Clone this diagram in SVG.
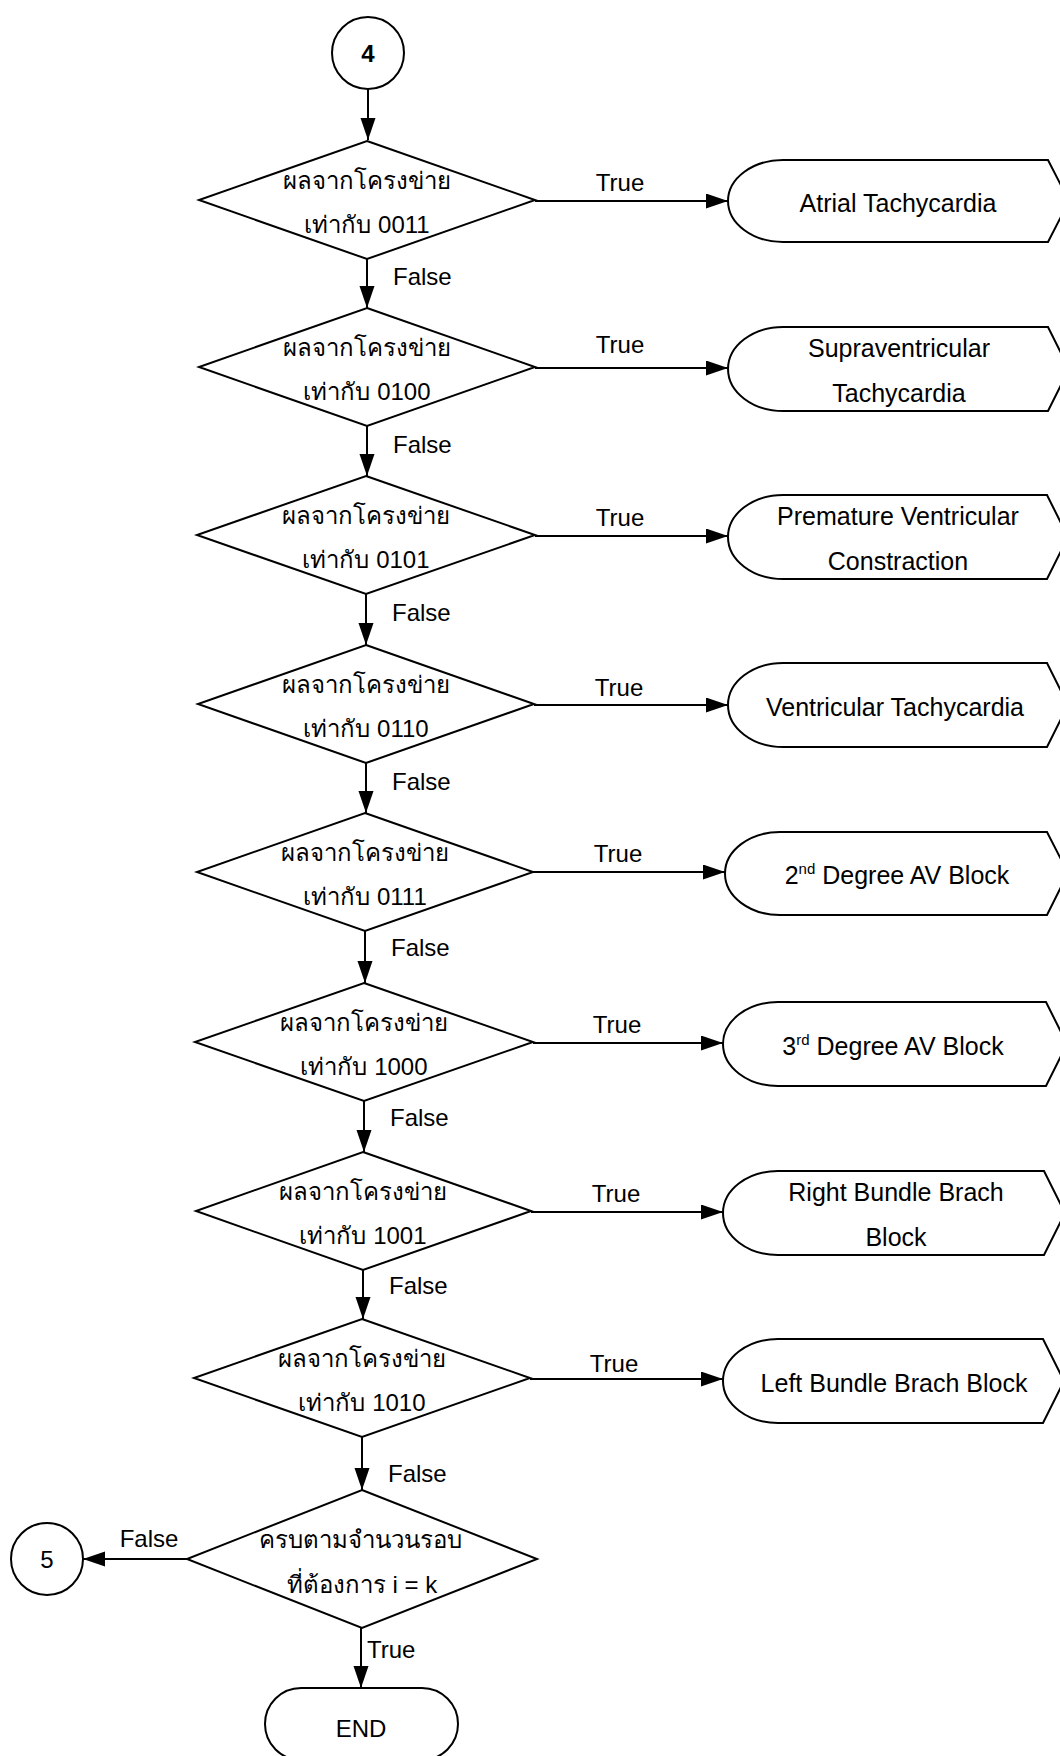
<svg xmlns="http://www.w3.org/2000/svg" width="1060" height="1756" viewBox="0 0 1060 1756">
  <style>
    .shape { fill: #ffffff; stroke: #000000; stroke-width: 2; stroke-linejoin: miter; }
    .ln { fill: none; stroke: #000000; stroke-width: 2; }
    text { font-family: "Liberation Sans", "DejaVu Sans", sans-serif; font-size: 24px; fill: #000000; }
    .c { text-anchor: middle; }
    .nt { font-size: 25px; }
    .sup { font-size: 15px; }
  </style>
  <defs>
    <marker id="arrow" markerUnits="userSpaceOnUse" markerWidth="24" markerHeight="16" refX="22" refY="7.5" orient="auto">
      <path d="M0,0 L22,7.5 L0,15 Z" fill="#000000"/>
    </marker>
  </defs>

  <rect x="0" y="0" width="1060" height="1756" fill="#ffffff"/>

  <!-- connectors -->
  <g id="connectors">
    <path class="ln" marker-end="url(#arrow)" d="M368,89 V140"/>
    <!-- False branches down the main column -->
    <path class="ln" marker-end="url(#arrow)" d="M367,259 V308"/>
    <path class="ln" marker-end="url(#arrow)" d="M367,426 V476"/>
    <path class="ln" marker-end="url(#arrow)" d="M366,594 V645"/>
    <path class="ln" marker-end="url(#arrow)" d="M366,763 V813"/>
    <path class="ln" marker-end="url(#arrow)" d="M365,931 V983"/>
    <path class="ln" marker-end="url(#arrow)" d="M364,1101 V1152"/>
    <path class="ln" marker-end="url(#arrow)" d="M363,1270 V1319"/>
    <path class="ln" marker-end="url(#arrow)" d="M362,1437 V1490"/>
    <path class="ln" marker-end="url(#arrow)" d="M361,1628 V1688"/>
    <path class="ln" marker-end="url(#arrow)" d="M187,1559 H83"/>
    <!-- True branches to the diagnoses -->
    <path class="ln" marker-end="url(#arrow)" d="M535,201 H728"/>
    <path class="ln" marker-end="url(#arrow)" d="M535,368 H728"/>
    <path class="ln" marker-end="url(#arrow)" d="M535,536 H728"/>
    <path class="ln" marker-end="url(#arrow)" d="M534,705 H728"/>
    <path class="ln" marker-end="url(#arrow)" d="M533,872 H725"/>
    <path class="ln" marker-end="url(#arrow)" d="M533,1043 H723"/>
    <path class="ln" marker-end="url(#arrow)" d="M531,1212 H723"/>
    <path class="ln" marker-end="url(#arrow)" d="M530,1379 H723"/>

    <text x="393" y="285">False</text>
    <text x="393" y="453">False</text>
    <text x="392" y="621">False</text>
    <text x="392" y="790">False</text>
    <text x="391" y="956">False</text>
    <text x="390" y="1126">False</text>
    <text x="389" y="1294">False</text>
    <text x="388" y="1482">False</text>
    <text x="367" y="1658">True</text>
    <text class="c" x="149" y="1547">False</text>

    <text class="c" x="620" y="191">True</text>
    <text class="c" x="620" y="353">True</text>
    <text class="c" x="620" y="526">True</text>
    <text class="c" x="619" y="696">True</text>
    <text class="c" x="618" y="862">True</text>
    <text class="c" x="617" y="1033">True</text>
    <text class="c" x="616" y="1202">True</text>
    <text class="c" x="614" y="1372">True</text>
  </g>

  <!-- connector circles -->
  <g id="start4">
    <circle class="shape" cx="368" cy="53" r="36"/>
    <text class="c" x="368" y="62" font-weight="bold">4</text>
  </g>
  <g id="goto5">
    <circle class="shape" cx="47" cy="1559" r="36"/>
    <text class="c" x="47" y="1568">5</text>
  </g>

  <!-- decisions -->
  <g id="d0011">
    <polygon class="shape" points="367,141 535,200 367,259 199,200"/>
    <text class="c" x="367" y="189">ผลจากโครงข่าย</text>
    <text class="c" x="367" y="233">เท่ากับ 0011</text>
  </g>
  <g id="d0100">
    <polygon class="shape" points="367,308 535,367 367,426 199,367"/>
    <text class="c" x="367" y="356">ผลจากโครงข่าย</text>
    <text class="c" x="367" y="400">เท่ากับ 0100</text>
  </g>
  <g id="d0101">
    <polygon class="shape" points="366,476 535,535 366,594 197,535"/>
    <text class="c" x="366" y="524">ผลจากโครงข่าย</text>
    <text class="c" x="366" y="568">เท่ากับ 0101</text>
  </g>
  <g id="d0110">
    <polygon class="shape" points="366,645 534,704 366,763 198,704"/>
    <text class="c" x="366" y="693">ผลจากโครงข่าย</text>
    <text class="c" x="366" y="737">เท่ากับ 0110</text>
  </g>
  <g id="d0111">
    <polygon class="shape" points="365,813 533,872 365,931 197,872"/>
    <text class="c" x="365" y="861">ผลจากโครงข่าย</text>
    <text class="c" x="365" y="905">เท่ากับ 0111</text>
  </g>
  <g id="d1000">
    <polygon class="shape" points="364,983 533,1042 364,1101 195,1042"/>
    <text class="c" x="364" y="1031">ผลจากโครงข่าย</text>
    <text class="c" x="364" y="1075">เท่ากับ 1000</text>
  </g>
  <g id="d1001">
    <polygon class="shape" points="363,1152 531,1211 363,1270 196,1211"/>
    <text class="c" x="363" y="1200">ผลจากโครงข่าย</text>
    <text class="c" x="363" y="1244">เท่ากับ 1001</text>
  </g>
  <g id="d1010">
    <polygon class="shape" points="362,1319 530,1378 362,1437 194,1378"/>
    <text class="c" x="362" y="1367">ผลจากโครงข่าย</text>
    <text class="c" x="362" y="1411">เท่ากับ 1010</text>
  </g>
  <g id="dLoop">
    <polygon class="shape" points="362,1490 537,1559 362,1628 187,1559"/>
    <text class="c" x="360" y="1548">ครบตามจำนวนรอบ</text>
    <text class="c" x="362" y="1593">ที่ต้องการ i = k</text>
  </g>

  <!-- diagnosis outputs (display symbols, running off the right edge) -->
  <g id="atrialTachy">
    <path class="shape" d="M783,160 H1048 L1069,201 L1048,242 H783 A55,41 0 0 1 783,160 Z"/>
    <text class="c nt" x="898" y="212">Atrial Tachycardia</text>
  </g>
  <g id="svTachy">
    <path class="shape" d="M783,327 H1048 L1069,369 L1048,411 H783 A55,42 0 0 1 783,327 Z"/>
    <text class="c nt" x="899" y="357">Supraventricular</text>
    <text class="c nt" x="899" y="402">Tachycardia</text>
  </g>
  <g id="pvc">
    <path class="shape" d="M783,495 H1047 L1068,537 L1047,579 H783 A55,42 0 0 1 783,495 Z"/>
    <text class="c nt" x="898" y="525">Premature Ventricular</text>
    <text class="c nt" x="898" y="570">Constraction</text>
  </g>
  <g id="vTachy">
    <path class="shape" d="M783,663 H1047 L1068,705 L1047,747 H783 A55,42 0 0 1 783,663 Z"/>
    <text class="c nt" x="895" y="716">Ventricular Tachycardia</text>
  </g>
  <g id="avBlock2">
    <path class="shape" d="M780,832 H1047 L1068,873 L1047,915 H780 A55,41.5 0 0 1 780,832 Z"/>
    <text class="c nt" x="897" y="884">2<tspan class="sup" dy="-10">nd</tspan><tspan dy="10"> Degree AV Block</tspan></text>
  </g>
  <g id="avBlock3">
    <path class="shape" d="M778,1002 H1046 L1067,1044 L1046,1086 H778 A55,42 0 0 1 778,1002 Z"/>
    <text class="c nt" x="893" y="1055">3<tspan class="sup" dy="-10">rd</tspan><tspan dy="10"> Degree AV Block</tspan></text>
  </g>
  <g id="rbbb">
    <path class="shape" d="M778,1171 H1044 L1065,1213 L1044,1255 H778 A55,42 0 0 1 778,1171 Z"/>
    <text class="c nt" x="896" y="1201">Right Bundle Brach</text>
    <text class="c nt" x="896" y="1246">Block</text>
  </g>
  <g id="lbbb">
    <path class="shape" d="M778,1339 H1043 L1064,1381 L1043,1423 H778 A55,42 0 0 1 778,1339 Z"/>
    <text class="c nt" x="894" y="1392">Left Bundle Brach Block</text>
  </g>

  <!-- terminator -->
  <g id="end">
    <rect class="shape" x="265" y="1688" width="193" height="72" rx="36" ry="36"/>
    <text class="c" x="361" y="1737" font-size="32">END</text>
  </g>
</svg>
